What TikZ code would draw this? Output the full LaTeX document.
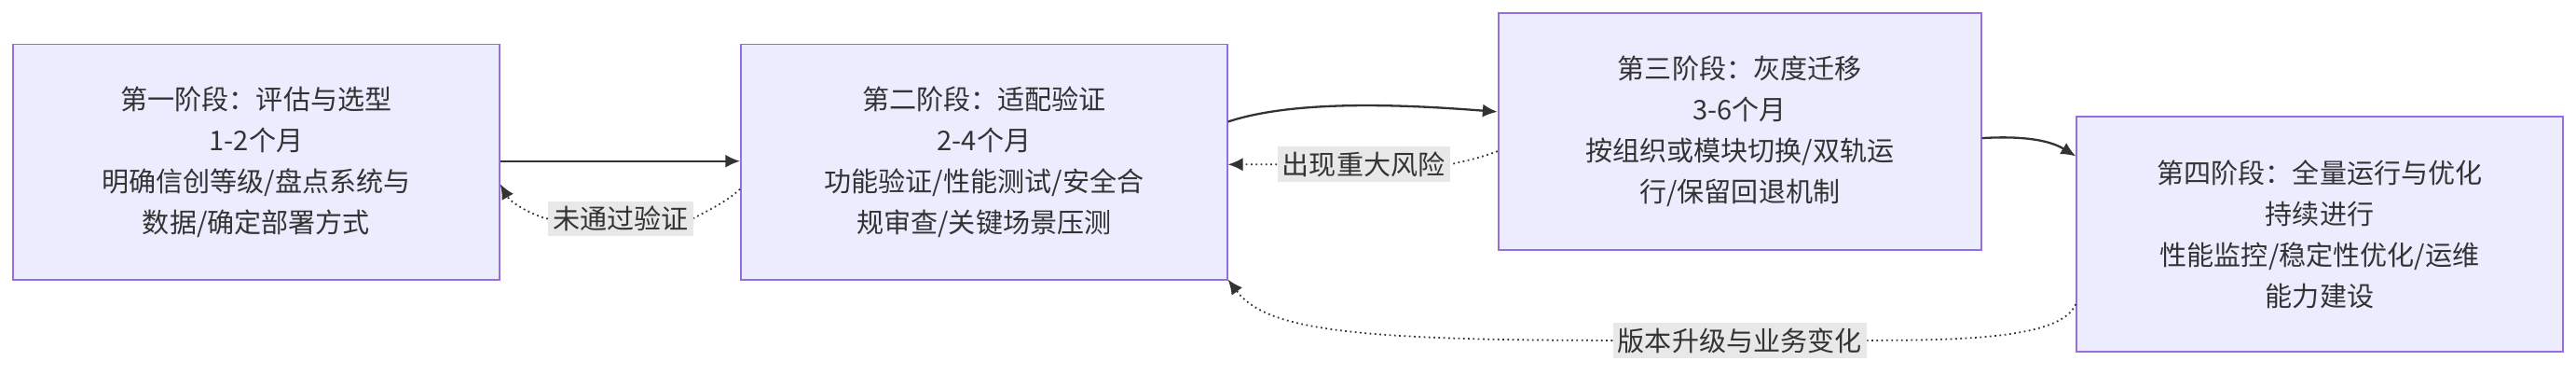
\documentclass[tikz,border=0pt]{standalone}
\usepackage{fontspec}
\setmainfont{Noto Sans CJK SC}
\usetikzlibrary{arrows.meta}
\definecolor{boxfill}{HTML}{ECECFF}
\definecolor{boxline}{HTML}{9370DB}
\definecolor{lblfill}{HTML}{E8E8E8}
\definecolor{ink}{HTML}{333333}
\tikzset{
  stage/.style={draw=boxline,fill=boxfill,line width=1pt,minimum width=296pt,minimum height=143pt,
    align=center,text=ink,font=\fontsize{16.5pt}{25pt}\selectfont},
  go/.style={draw=ink,line width=1.3pt,-{Latex[length=9pt,width=8pt]}},
  back/.style={draw=ink,line width=1pt,dotted,-{Latex[length=9pt,width=8pt]}},
  lbl/.style={fill=lblfill,text=ink,inner sep=3pt,font=\fontsize{16.5pt}{18pt}\selectfont}
}
\begin{document}
\begin{tikzpicture}[x=1pt,y=1pt]
\useasboundingbox (0,0) rectangle (1568,-228);
% stages
\node[stage] (s1) at (156,-98.5) {第一阶段：评估与选型\\1-2个月\\明确信创等级/盘点系统与\\数据/确定部署方式};
\node[stage] (s2) at (599,-98.5) {第二阶段：适配验证\\2-4个月\\功能验证/性能测试/安全合\\规审查/关键场景压测};
\node[stage,minimum width=294pt,minimum height=144pt] (s3) at (1059,-80) {第三阶段：灰度迁移\\3-6个月\\按组织或模块切换/双轨运\\行/保留回退机制};
\node[stage] (s4) at (1412,-142.5) {第四阶段：全量运行与优化\\持续进行\\性能监控/稳定性优化/运维\\能力建设};
% labels
\node[lbl] (l1) at (378,-133) {未通过验证};
\node[lbl] (l2) at (830,-100) {出现重大风险};
\node[lbl] (l3) at (1059,-207) {版本升级与业务变化};
% forward
\draw[go] (s1.east |- 0,-98) -- (s2.west |- 0,-98);
\draw[go] (s2.east |- 0,-74) .. controls (790,-60) and (860,-64) .. (s3.west |- 0,-68);
\draw[go] (s3.east |- 0,-84) .. controls (1240,-82) and (1252,-88) .. (s4.west |- 0,-95);
% back
\draw[back] (s2.west |- 0,-115) .. controls (440,-125) and (420,-133) .. (l1.east)
  (l1.west) .. controls (330,-133) and (312,-125) .. (s1.east |- 0,-112);
\draw[back] (s3.west |- 0,-92) .. controls (900,-96) .. (l2.east)
  (l2.west) -- (s2.east |- 0,-100);
\draw[back] (s4.west |- 0,-185) .. controls (1255,-205) and (1200,-207) .. (l3.east)
  (l3.west) .. controls (820,-207) and (770,-200) .. (s2.east |- 0,-170);
\end{tikzpicture}
\end{document}
